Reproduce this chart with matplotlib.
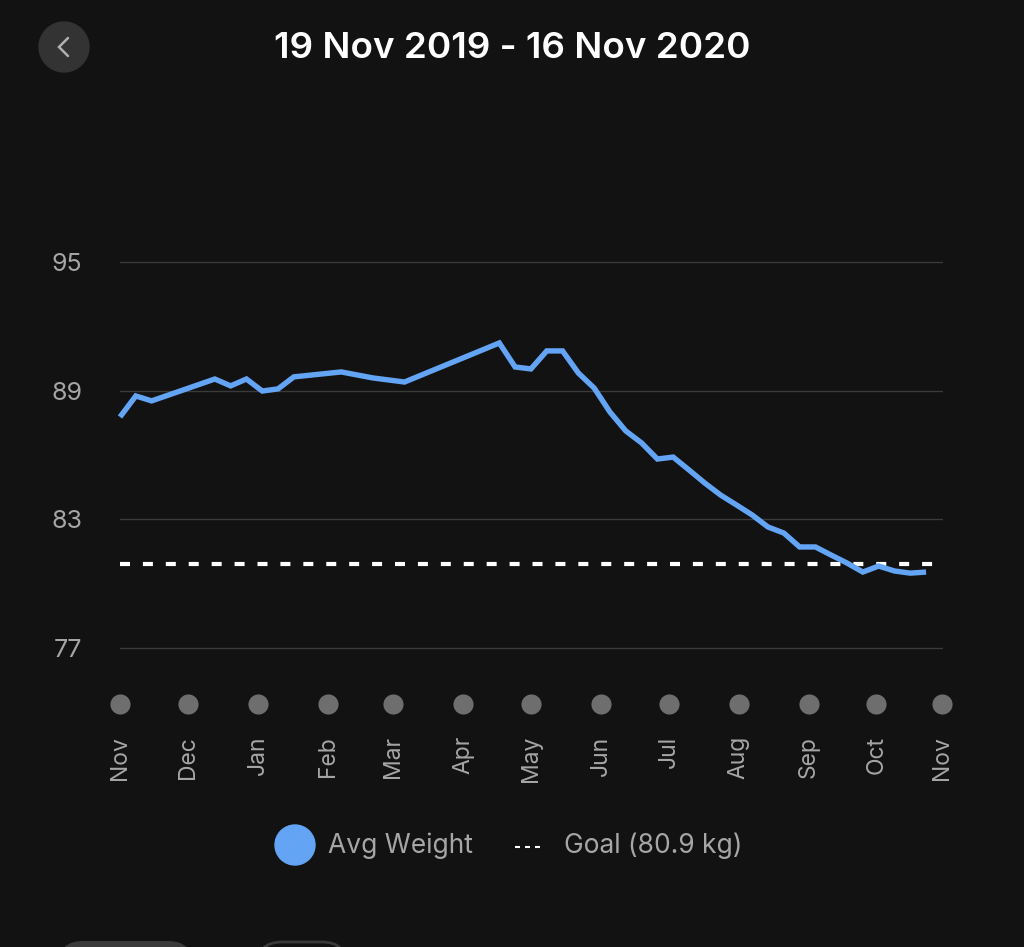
import numpy as np
import matplotlib
matplotlib.use("Agg")
import matplotlib.pyplot as plt
from matplotlib.patches import Circle, FancyBboxPatch
from matplotlib.lines import Line2D

# weekly averages, x = week number since 19 Nov 2019
weeks = [0, 1, 2, 6, 7, 8, 9, 10, 11, 14, 16, 18, 24, 25, 26, 27, 28, 29,
         30, 31, 32, 33, 34, 35, 36, 37, 38, 39, 40, 41, 42, 43, 44, 45,
         46, 47, 48, 49, 50, 51]
avg_weight = [87.77, 88.75, 88.52, 89.54, 89.22, 89.54, 88.98, 89.08, 89.64,
              89.87, 89.59, 89.40, 91.22, 90.10, 90.01, 90.85, 90.85, 89.82,
              89.12, 88.00, 87.12, 86.56, 85.81, 85.90, 85.30, 84.69, 84.13,
              83.67, 83.20, 82.64, 82.36, 81.71, 81.71, 81.33, 80.96, 80.54,
              80.82, 80.59, 80.49, 80.54]
goal = 80.9
month_labels = ["Nov", "Dec", "Jan", "Feb", "Mar", "Apr", "May", "Jun",
                "Jul", "Aug", "Sep", "Oct", "Nov"]
month_days = [0, 30, 61, 92, 121, 152, 182, 213, 243, 274, 305, 335, 364]
yticks = [77, 83, 89, 95]

BG = "#121212"
BLUE = "#63a4f4"
GREY = "#a6a6a6"

plt.rcParams["font.family"] = ["Inter", "DejaVu Sans"]

W, H = 1024, 947
fig = plt.figure(figsize=(W / 100, H / 100), dpi=100, facecolor=BG)


def px(x0, y0, x1, y1):
    """pixel box (top-left origin) -> figure fraction rect"""
    return [x0 / W, 1 - y1 / H, (x1 - x0) / W, (y1 - y0) / H]


ax = fig.add_axes(px(120, 219, 943, 660))
ax.set_facecolor(BG)
ax.set_xlim(0, 364.5)
ax.set_ylim(76.44, 97.0)
for s in ax.spines.values():
    s.set_visible(False)
ax.set_xticks([])
ax.set_yticks(yticks)
ax.set_yticklabels([str(v) for v in yticks], color=GREY, fontsize=18)
ax.tick_params(axis="y", length=0, pad=27)
ax.grid(axis="y", color="#3a3a3a", linewidth=1)
ax.set_axisbelow(True)

days = np.array(weeks) * 7
ax.plot(days, avg_weight, color=BLUE, linewidth=3.9, solid_joinstyle="miter",
        solid_capstyle="butt", clip_on=False, zorder=3)
ax.axhline(goal, color="white", linewidth=3, dashes=(2.4, 3.1), zorder=2)

# month dots and labels below the plot area
dot_y = 74.39
lab_y = 72.90
ax.scatter(month_days, [dot_y] * len(month_days), s=210, color="#6e6e6e",
           clip_on=False, zorder=3, linewidths=0)
for d, lab in zip(month_days, month_labels):
    ax.text(d, lab_y, lab, rotation=90, ha="center", va="top", color=GREY,
            fontsize=16.5, clip_on=False)

# overlay for the screen furniture
ov = fig.add_axes([0, 0, 1, 1], facecolor="none")
ov.set_xlim(0, W)
ov.set_ylim(H, 0)
ov.axis("off")

ov.text(512, 48, "19 Nov 2019 - 16 Nov 2020", ha="center", va="center",
        color="white", fontsize=26.5, fontweight="semibold")
ov.add_patch(Circle((64, 47), 25, color="#333333"))
ov.add_line(Line2D([68, 59, 68], [38, 47, 56], color="#b0b0b0", linewidth=1.8,
                   solid_capstyle="round", solid_joinstyle="miter"))

# legend
ov.add_patch(Circle((295, 845), 20, color=BLUE))
ov.text(328, 846, "Avg Weight", ha="left", va="center", color=GREY,
        fontsize=19)
ov.add_line(Line2D([515, 541], [847, 847], color="white", linewidth=1.5,
                   dashes=(2.4, 2.4)))
ov.text(564, 846, "Goal (80.9 kg)", ha="left", va="center", color=GREY,
        fontsize=19)

# bottom buttons (cut off)
ov.add_patch(FancyBboxPatch((58, 941), 135, 60,
                            boxstyle="round,pad=0,rounding_size=25",
                            facecolor="#3a3a3a", edgecolor="none"))
ov.add_patch(FancyBboxPatch((257, 942), 90, 60,
                            boxstyle="round,pad=0,rounding_size=25",
                            facecolor=BG, edgecolor="#3a3a3a", linewidth=2))

fig.savefig("out.png", facecolor=BG)
